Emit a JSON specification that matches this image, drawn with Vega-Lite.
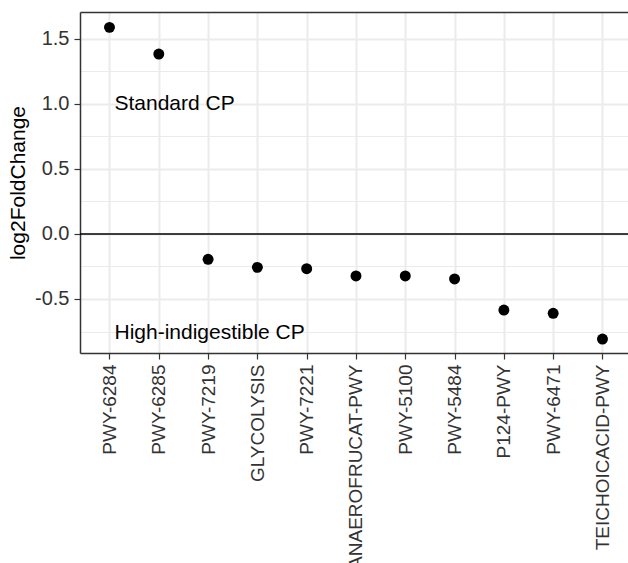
{
  "$schema": "https://vega.github.io/schema/vega-lite/v6.json",
  "autosize": {"type": "none"},
  "padding": {"left": 80, "top": 12, "right": 0, "bottom": 210},
  "width": 548,
  "height": 341,
  "background": "white",
  "config": {
    "view": {"stroke": null},
    "font": "Liberation Sans"
  },
  "datasets": {
    "points": [
      {"pathway": "PWY-6284", "value": 1.587},
      {"pathway": "PWY-6285", "value": 1.382},
      {"pathway": "PWY-7219", "value": -0.195},
      {"pathway": "GLYCOLYSIS", "value": -0.257},
      {"pathway": "PWY-7221", "value": -0.267},
      {"pathway": "ANAEROFRUCAT-PWY", "value": -0.323},
      {"pathway": "PWY-5100", "value": -0.323},
      {"pathway": "PWY-5484", "value": -0.346},
      {"pathway": "P124-PWY", "value": -0.585},
      {"pathway": "PWY-6471", "value": -0.61},
      {"pathway": "TEICHOICACID-PWY", "value": -0.808}
    ],
    "labels": [
      {"pathway": "PWY-6284", "value": 1.0, "text": "Standard CP"},
      {"pathway": "PWY-6284", "value": -0.76, "text": "High-indigestible CP"}
    ],
    "zero": [{"value": 0}]
  },
  "encoding": {
    "y": {
      "field": "value", "type": "quantitative",
      "scale": {"domain": [-0.915, 1.705], "nice": false, "zero": false},
      "axis": {
        "title": "log2FoldChange", "titleFontSize": 21, "titleColor": "black",
        "titleFontWeight": "normal", "titlePadding": 6,
        "values": [-0.75, -0.5, -0.25, 0, 0.25, 0.5, 0.75, 1, 1.25, 1.5],
        "labelExpr": "abs(datum.value % 0.5) < 0.01 ? replace(format(datum.value, '.1f'), '\u2212', '-') : ''",
        "labelFontSize": 20, "labelColor": "#333333", "labelPadding": 5,
        "tickSize": 6, "tickColor": "#333333", "tickWidth": 1.2,
        "tickOpacity": {"condition": {"test": "abs(datum.value % 0.5) > 0.01", "value": 0}, "value": 1},
        "domain": true, "domainColor": "#333333", "domainWidth": 1.5,
        "grid": true, "gridColor": "#EBEBEB",
        "gridWidth": {"condition": {"test": "abs(datum.value % 0.5) > 0.01", "value": 1}, "value": 2}
      }
    }
  },
  "layer": [
    {
      "data": {"name": "zero"},
      "mark": {"type": "rule", "color": "black", "strokeWidth": 1.5},
      "encoding": {}
    },
    {
      "data": {"name": "points"},
      "mark": {"type": "point", "filled": true, "color": "black", "size": 120, "opacity": 1},
      "encoding": {
        "x": {
          "field": "pathway", "type": "nominal", "sort": null,
          "scale": {
            "type": "point", "padding": 0.558, "align": 0.536,
            "domain": ["PWY-6284", "PWY-6285", "PWY-7219", "GLYCOLYSIS", "PWY-7221", "ANAEROFRUCAT-PWY", "PWY-5100", "PWY-5484", "P124-PWY", "PWY-6471", "TEICHOICACID-PWY"]
          },
          "axis": {
            "orient": "bottom", "title": null,
            "labelAngle": -90, "labelAlign": "right", "labelBaseline": "middle",
            "labelFontSize": 19, "labelColor": "#333333", "labelPadding": 5,
            "labelOverlap": false, "labelLimit": 400,
            "tickSize": 6, "tickColor": "#333333", "tickWidth": 1.2,
            "domain": true, "domainColor": "#333333", "domainWidth": 1.5,
            "grid": true, "gridColor": "#EBEBEB", "gridWidth": 2
          }
        }
      }
    },
    {
      "data": {"name": "labels"},
      "mark": {"type": "text", "align": "left", "baseline": "middle", "dx": 5, "fontSize": 21, "color": "black"},
      "encoding": {
        "x": {
          "field": "pathway", "type": "nominal", "sort": null,
          "axis": {
            "orient": "top", "title": null, "labels": false, "ticks": false,
            "grid": false, "domain": true, "domainColor": "#333333", "domainWidth": 1.5
          }
        },
        "text": {"field": "text"}
      }
    }
  ],
  "resolve": {"axis": {"x": "independent"}}
}
